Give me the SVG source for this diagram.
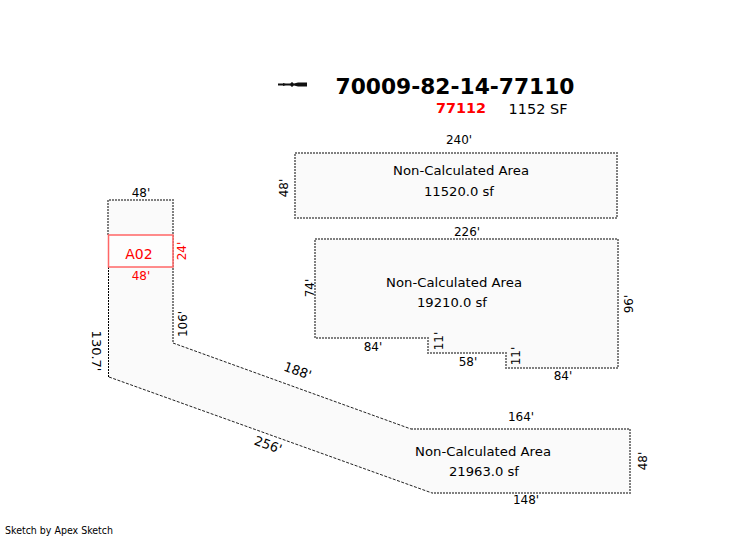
<svg xmlns="http://www.w3.org/2000/svg" width="730" height="536" viewBox="0 0 730 536">
<style>
text{font-family:"DejaVu Sans",Verdana,sans-serif;font-size:12px;fill:#000;text-anchor:middle}
.area{fill:#fafafa;stroke:#808080;stroke-width:2;stroke-dasharray:2 1}
.fill{fill:#fafafa;stroke:none}
.edge{fill:none;stroke:#808080;stroke-width:2;stroke-dasharray:2 1}
.thin{fill:none;stroke:#000;stroke-width:1;stroke-dasharray:2 1}
.slant{fill:none;stroke:#222;stroke-width:1;stroke-dasharray:3 1.5}
.big{font-size:13px}
.red{fill:#f00}
</style>
<rect width="730" height="536" fill="#fff"/>
<g id="north-arrow"><path d="M278 84.500H290" fill="none" stroke="#111" stroke-width="2"/><path d="M294 83.500L298 82.500H307V86.500H298L294 85.500ZM292 82L295 84.500L292 87L289 84.500ZM283 83L287 84.500L283 86Z" fill="#111"/></g>
<g id="title">
<text x="455" y="94" style="font-size:22px;font-weight:bold" textLength="239" lengthAdjust="spacingAndGlyphs">70009-82-14-77110</text>
<text x="461" y="113" class="red" style="font-size:14px;font-weight:bold" textLength="50" lengthAdjust="spacingAndGlyphs">77112</text>
<text x="538" y="114" style="font-size:14px" textLength="59" lengthAdjust="spacingAndGlyphs">1152 SF</text>
</g>
<g id="area-1">
<path class="area" d="M295 153H617V218H295Z"/>
<text x="459" y="144">240'</text>
<text transform="translate(288 188) rotate(-90)">48'</text>
<text x="461" y="175" class="big" textLength="136" lengthAdjust="spacingAndGlyphs">Non-Calculated Area</text>
<text x="459" y="196" class="big" textLength="70" lengthAdjust="spacingAndGlyphs">11520.0 sf</text>
</g>
<g id="area-2">
<path class="area" d="M315 239H618V368H506V353H428V338H315Z"/>
<text x="467" y="236">226'</text>
<text transform="translate(314 288) rotate(-90)">74'</text>
<text transform="translate(633 304) rotate(-90)">96'</text>
<text x="373" y="351">84'</text>
<text x="468" y="366">58'</text>
<text x="563" y="380">84'</text>
<text transform="translate(443 341) rotate(-90)">11'</text>
<text transform="translate(520 356) rotate(-90)">11'</text>
<text x="454" y="287" class="big" textLength="136" lengthAdjust="spacingAndGlyphs">Non-Calculated Area</text>
<text x="452" y="307" class="big" textLength="70" lengthAdjust="spacingAndGlyphs">19210.0 sf</text>
</g>
<g id="area-3">
<path class="fill" d="M108 200H173V343L411 429H630V493H432L109 377Z"/>
<path class="edge" d="M108 235V200H173V343M411 429H630V493H432"/>
<text x="141" y="197">48'</text>
<text transform="translate(92 351) rotate(90)" class="big">130.7'</text>
<text transform="translate(187 324) rotate(-90)">106'</text>
<text transform="translate(296 375) rotate(20)" class="big">188'</text>
<text transform="translate(266.500 449) rotate(20)" class="big">256'</text>
<text x="521" y="421">164'</text>
<text x="526" y="504">148'</text>
<text transform="translate(647 461) rotate(-90)">48'</text>
<text x="483" y="456" class="big" textLength="136" lengthAdjust="spacingAndGlyphs">Non-Calculated Area</text>
<text x="484" y="476" class="big" textLength="70" lengthAdjust="spacingAndGlyphs">21963.0 sf</text>
</g>
<g id="connectors"><path class="slant" d="M173 343L411 429"/><path class="slant" d="M109 377L432 493"/><path class="thin" d="M108.500 267V377"/></g>
<g id="A02">
<rect x="108.500" y="235" width="64.500" height="32" fill="#fff" fill-opacity=".6" stroke="#f66" stroke-width="1.500"/>
<text x="139" y="259" class="red" style="font-size:14px">A02</text>
<text x="141" y="280" class="red">48'</text>
<text transform="translate(186 251) rotate(-90)" class="red">24'</text>
</g>
<g id="credit"><text x="59" y="534" style="font-size:10px" textLength="108" lengthAdjust="spacingAndGlyphs">Sketch by Apex Sketch</text></g>
</svg>
